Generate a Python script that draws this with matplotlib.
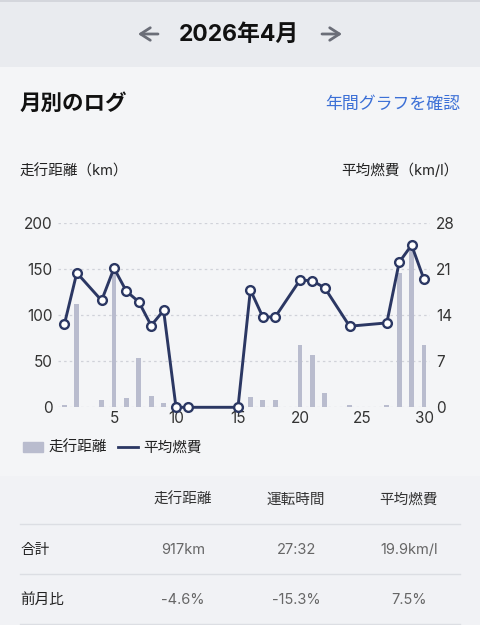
import matplotlib.pyplot as plt
from matplotlib.patches import Rectangle
from matplotlib.lines import Line2D

plt.rcParams['font.family'] = ['Inter', 'Noto Sans CJK JP', 'DejaVu Sans']

# 日別データ（2026年4月）
days = list(range(1, 31))
distance = [3, 112, 0, 8, 148, 10, 53, 12, 5, 0,
            0, 0, 0, 0, 0, 11, 8, 8, 0, 68,
            57, 15, 0, 3, 0, 0, 2, 146, 172, 67]
fuel_days = [1, 2, 4, 5, 6, 7, 8, 9, 10, 11, 15, 16, 17, 18, 20, 21, 22, 24, 27, 28, 29, 30]
fuel = [12.6, 20.4, 16.2, 21.1, 17.6, 16.0, 12.4, 14.7, 0, 0, 0, 17.8, 13.7, 13.7,
        19.3, 19.2, 18.1, 12.3, 12.8, 22.0, 24.6, 19.4]

left_ticks = [0, 50, 100, 150, 200]
right_ticks = [0, 7, 14, 21, 28]
x_ticks = [5, 10, 15, 20, 25, 30]

table_cols = ['走行距離', '運転時間', '平均燃費']
table_rows = ['合計', '前月比']
table_vals = [['917km', '27:32', '19.9km/l'],
              ['-4.6%', '-15.3%', '7.5%']]

W, H = 480, 625
fig = plt.figure(figsize=(W / 100, H / 100), dpi=100)
fig.patch.set_facecolor('#f4f5f7')

# 背景・レイアウト用（ピクセル座標）
bg = fig.add_axes([0, 0, 1, 1], zorder=0)
bg.set_xlim(0, W)
bg.set_ylim(H, 0)
bg.axis('off')
bg.add_patch(Rectangle((0, 0), W, 67, color='#e9ebef', lw=0))
bg.add_patch(Rectangle((0, 0), W, 1.5, color='#d4d6dc', lw=0))
bg.add_patch(Rectangle((0, 476), W, H - 476, color='#f1f2f5', lw=0))

bg.text(239, 35, '2026年4月', ha='center', va='center', fontsize=16.5,
        fontweight='bold', color='#111111')
# 前月・翌月の矢印
arrow_style = dict(arrowstyle='->, head_length=0.7, head_width=0.45',
                   color='#6b6e78', lw=2, shrinkA=0, shrinkB=0)
bg.annotate('', xy=(138, 34), xytext=(158, 34), arrowprops=arrow_style)
bg.annotate('', xy=(342, 34), xytext=(322, 34), arrowprops=arrow_style)

bg.text(20, 104, '月別のログ', ha='left', va='center', fontsize=15.5,
        fontweight='bold', color='#111111')
bg.text(460, 104, '年間グラフを確認', ha='right', va='center', fontsize=12.2,
        color='#3b6fd6')
bg.text(20, 171, '走行距離（km）', ha='left', va='center', fontsize=10.5, color='#222222')
bg.text(458, 171, '平均燃費（km/l）', ha='right', va='center', fontsize=10.5, color='#222222')

# 表
col_x = [183, 296, 409]
for x, c in zip(col_x, table_cols):
    bg.text(x, 500, c, ha='center', va='center', fontsize=10.5, color='#333333')
for i, (r, vals) in enumerate(zip(table_rows, table_vals)):
    y = 550 + 50 * i
    bg.text(20, y, r, ha='left', va='center', fontsize=10.5, color='#222222')
    for x, v in zip(col_x, vals):
        bg.text(x, y, v, ha='center', va='center', fontsize=10.5, color='#666666')
for y in [524, 574, 624]:
    bg.plot([20, 460], [y, y], color='#dcdee3', lw=1)

# グラフ
x0, x1 = 58.2, 430.2
y0, y1 = 407.3, 222.7
ax = fig.add_axes([x0 / W, 1 - y0 / H, (x1 - x0) / W, (y0 - y1) / H], zorder=2)
ax.patch.set_alpha(0)
bars = ax.bar(days, distance, width=0.4, color='#b9bcce', zorder=1)
ax.set_xlim(0.5, 30.5)
ax.set_ylim(0, 200)
ax.set_yticks(left_ticks)
ax.set_xticks(x_ticks)
for t in left_ticks:
    ax.axhline(t, color='#d0d2d9', lw=0.9, ls=(0, (2, 2.5)), zorder=0)
for s in ax.spines.values():
    s.set_visible(False)
ax.tick_params(length=0, labelsize=11, colors='#333333')
ax.tick_params(axis='y', pad=4)
ax.tick_params(axis='x', pad=3)

ax2 = ax.twinx()
ax2.set_ylim(0, 28)
ax2.set_yticks(right_ticks)
for s in ax2.spines.values():
    s.set_visible(False)
ax2.tick_params(length=0, labelsize=11, colors='#333333', pad=4)
line, = ax2.plot(fuel_days, fuel, color='#2b3763', lw=2.1, marker='o', markersize=6.3,
                 markerfacecolor='white', markeredgecolor='#2b3763',
                 markeredgewidth=1.7, clip_on=False, zorder=3)

handles = [Rectangle((0, 0), 1, 1, color='#b9bcce'),
           Line2D([0], [0], color='#2b3763', lw=2)]
fig.legend(handles, ['走行距離', '平均燃費'], loc='center left',
           bbox_to_anchor=(10 / W, 1 - 448 / H), ncol=2, frameon=False,
           fontsize=10.5, handlelength=1.35, handleheight=0.65, handletextpad=0.4,
           columnspacing=0.75, labelcolor='#222222')

fig.savefig('out.png', dpi=100, facecolor=fig.get_facecolor())
